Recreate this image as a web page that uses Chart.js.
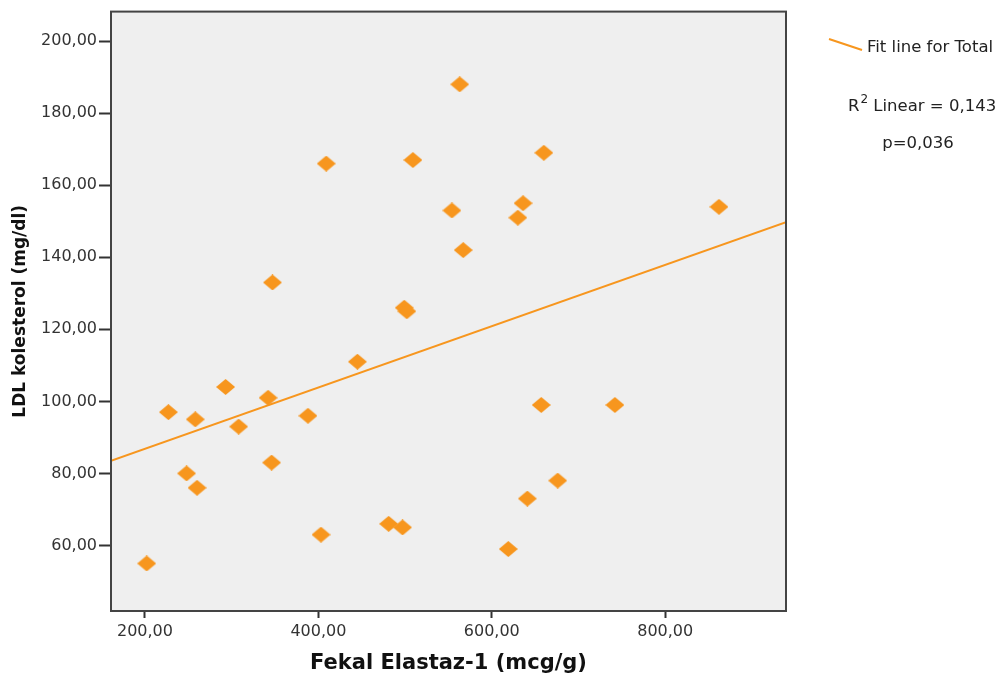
<!DOCTYPE html>
<html>
<head>
<meta charset="utf-8">
<script src="https://cdn.jsdelivr.net/npm/chart.js@4/dist/chart.umd.min.js"></script>
<style>
  body { margin: 0; background: #fff; }
  #wrap { width: 1001px; height: 680px; }
</style>
</head>
<body>
<div id="wrap"><canvas id="myChart" width="1001" height="680"></canvas></div>
<script>
// Fekal Elastaz-1 (x) vs LDL kolesterol (y)
let elastaz = [202, 227, 258, 293, 342, 308, 248, 260, 346, 388, 403, 347, 409, 563, 509, 660,
  554, 636, 630, 567, 862, 499, 502, 445, 657, 742, 676, 641, 481, 497, 619];
let ldl = [55, 97, 95, 104, 101, 93, 80, 76, 83, 96, 63, 133, 166, 188, 167, 169,
  153, 155, 151, 142, 154, 126, 125, 111, 99, 99, 78, 73, 66, 65, 59];

// fit line end points (at the plot edges)
let fitX = [160.8, 939.3];
let fitY = [83.5, 149.75];

let xTicks = [200, 400, 600, 800];
let yTicks = [60, 80, 100, 120, 140, 160, 180, 200];
let xRange = [160.8, 939.3];
let yRange = [41.8, 208.2];

let orange = "#f7961e";
let fmt = (v) => v.toFixed(2).replace(".", ",");

// diamond marker, a bit wider than tall
let marker = document.createElement("canvas");
marker.width = 19;
marker.height = 16;
let mctx = marker.getContext("2d");
mctx.fillStyle = orange;
mctx.beginPath();
mctx.moveTo(9.5, 0);
mctx.lineTo(19, 8);
mctx.lineTo(9.5, 16);
mctx.lineTo(0, 8);
mctx.closePath();
mctx.fill();

let points = elastaz.map((x, i) => ({ x: x, y: ldl[i] }));
let fitPoints = fitX.map((x, i) => ({ x: x, y: fitY[i] }));

let frame = {
  id: "frame",
  beforeDraw(chart) {
    let a = chart.chartArea;
    let c = chart.ctx;
    c.save();
    c.fillStyle = "#efefef";
    c.fillRect(a.left, a.top, a.right - a.left, a.bottom - a.top);
    c.restore();
  },
  afterDraw(chart) {
    let a = chart.chartArea;
    let c = chart.ctx;
    c.save();
    c.strokeStyle = "#444";
    c.lineWidth = 2;
    c.strokeRect(a.left, a.top, a.right - a.left, a.bottom - a.top);

    // legend / annotation on the right
    c.strokeStyle = orange;
    c.lineWidth = 2;
    c.beginPath();
    c.moveTo(829, 39);
    c.lineTo(862, 50);
    c.stroke();
    c.fillStyle = "#222";
    c.textBaseline = "alphabetic";
    c.textAlign = "left";
    c.font = "16.5px 'DejaVu Sans'";
    c.fillText("Fit line for Total", 867, 52);
    c.fillText("R", 848, 111);
    let rw = c.measureText("R").width;
    c.font = "12px 'DejaVu Sans'";
    c.fillText("2", 848 + rw + 1, 103);
    let sw = c.measureText("2").width;
    c.font = "16.5px 'DejaVu Sans'";
    c.fillText(" Linear = 0,143", 848 + rw + 1 + sw, 111);
    c.textAlign = "center";
    c.fillText("p=0,036", 918, 148);
    c.restore();
  },
};

var ctx = document.getElementById("myChart").getContext("2d");
var myChart = new Chart(ctx, {
  type: "scatter",
  data: {
    datasets: [
      {
        label: "Total",
        data: points,
        pointStyle: marker,
        pointRadius: 9,
        pointHoverRadius: 9,
        backgroundColor: orange,
        borderColor: orange,
      },
      {
        label: "Fit line for Total",
        type: "line",
        data: fitPoints,
        borderColor: orange,
        borderWidth: 2,
        pointRadius: 0,
        fill: false,
      },
    ],
  },
  options: {
    responsive: false,
    animation: false,
    layout: { padding: { left: 0, top: 10, right: 215, bottom: 0 } },
    plugins: {
      legend: { display: false },
      tooltip: { enabled: false },
    },
    scales: {
      x: {
        type: "linear",
        min: xRange[0],
        max: xRange[1],
        afterBuildTicks: (s) => { s.ticks = xTicks.map((v) => ({ value: v })); },
        afterFit: (s) => { s.height = 69; },
        ticks: {
          callback: (v) => fmt(v),
          color: "#333",
          font: { family: "'DejaVu Sans'", size: 16 },
          padding: 4,
          maxRotation: 0,
        },
        grid: { drawOnChartArea: false, drawTicks: true, tickLength: 7, color: "#333", tickWidth: 2 },
        border: { display: false },
        title: {
          display: true,
          text: "Fekal Elastaz-1 (mcg/g)",
          color: "#111",
          font: { family: "'DejaVu Sans'", size: 21, weight: "bold" },
          padding: { top: 0, bottom: 4 },
        },
      },
      y: {
        type: "linear",
        min: yRange[0],
        max: yRange[1],
        afterBuildTicks: (s) => { s.ticks = yTicks.map((v) => ({ value: v })); },
        afterFit: (s) => { s.width = 111; },
        ticks: {
          callback: (v) => fmt(v),
          color: "#333",
          font: { family: "'DejaVu Sans'", size: 16 },
          padding: 2,
        },
        grid: { drawOnChartArea: false, drawTicks: true, tickLength: 12, color: "#333", tickWidth: 2 },
        border: { display: false },
        title: {
          display: true,
          text: "LDL kolesterol (mg/dl)",
          color: "#111",
          font: { family: "'DejaVu Sans'", size: 17, weight: "bold" },
          padding: { top: 10, bottom: 0 },
        },
      },
    },
  },
  plugins: [frame],
});
</script>
</body>
</html>
